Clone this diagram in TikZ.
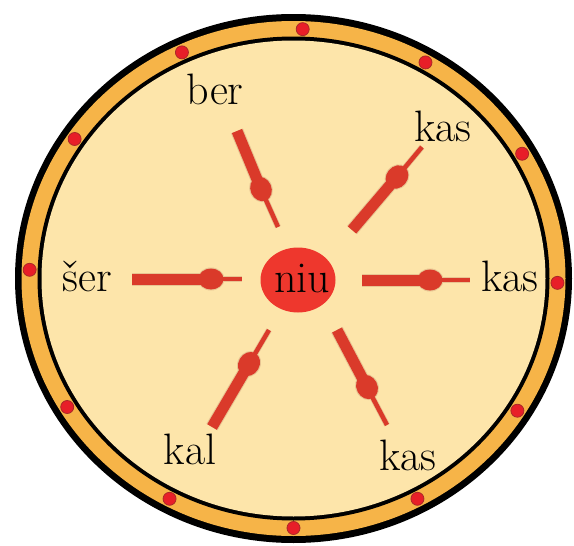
\documentclass[tikz,border=0pt]{standalone}
\usepackage{fontspec}
\usetikzlibrary{shapes.geometric}
\definecolor{bgfill}{RGB}{253,229,170}
\definecolor{ringorange}{RGB}{246,180,72}
\definecolor{dotred}{RGB}{232,30,40}
\definecolor{dotedge}{RGB}{170,40,40}
\definecolor{arrowred}{RGB}{218,58,42}
\definecolor{halo}{RGB}{232,196,146}
\definecolor{centerred}{RGB}{238,55,45}
\tikzset{
  lbl/.style={font=\rmfamily\fontsize{44}{52}\selectfont, anchor=base, inner sep=0pt, text=black},
  thickseg/.style={draw=arrowred, line width=11pt, line cap=butt},
  thinseg/.style={draw=arrowred, line width=4.5pt, line cap=butt},
  thickhalo/.style={draw=halo, line width=13pt, line cap=butt},
  thinhalo/.style={draw=halo, line width=6pt, line cap=butt},
  blob/.style={ellipse, fill=arrowred, minimum width=25pt, minimum height=21pt, inner sep=0pt},
  blobhalo/.style={ellipse, fill=halo, minimum width=27pt, minimum height=23pt, inner sep=0pt},
}
\newcommand{\blobarrow}[4]{%
  \draw[thickhalo] (#1) -- (#2);
  \draw[thinhalo] (#2) -- (#3);
  \node[blobhalo, rotate=#4] at (#2) {};
  \draw[thickseg] (#1) -- (#2);
  \draw[thinseg] (#2) -- (#3);
  \node[blob, rotate=#4] at (#2) {};
}
\begin{document}
\begin{tikzpicture}[x=1pt,y=-1pt]
\useasboundingbox (0,0) rectangle (574,546);
\coordinate (c) at (293.5,278.5);
% rings
\fill[black] (c) ellipse (278.5pt and 264.5pt);
\fill[ringorange] (c) ellipse (272pt and 257.5pt);
\fill[black] (c) ellipse (256pt and 242pt);
\fill[bgfill] (c) ellipse (252pt and 238pt);
% dots on the ring
\foreach \t in {-1,30,60,88,115,146,178,211,242,270,298,328}
  \fill[dotred, draw=dotedge, line width=0.8pt, shift={(c)}] (\t:264pt and 249.5pt) circle (6.5pt);

% labels
\node[lbl] (ber)  at (215,104) {ber};
\node[lbl] (kas1) at (443,141) {kas};
\node[lbl] (kas2) at (510,291) {kas};
\node[lbl] (ser)  at (87,291)  {šer};
\node[lbl] (kal)  at (190,464) {kal};
\node[lbl] (kas3) at (408,470) {kas};
\node[ellipse, fill=centerred, minimum width=75pt, minimum height=65pt, inner sep=0pt] (niu) at (298,280) {};
\node[lbl] (niutext) at (302,292) {niu};

% arrow coordinates
\coordinate (s1) at (237,131); \coordinate (m1) at (261,189); \coordinate (e1) at (278,227);
\coordinate (s2) at (132,279); \coordinate (m2) at (211,279); \coordinate (e2) at (242,279);
\coordinate (s3) at (212,427); \coordinate (m3) at (249,364); \coordinate (e3) at (269,330);
\coordinate (s4) at (362,280); \coordinate (m4) at (430,280); \coordinate (e4) at (470,280);
\coordinate (s5) at (352,230); \coordinate (m5) at (397,177); \coordinate (e5) at (422,147);
\coordinate (s6) at (337,330); \coordinate (m6) at (367,387); \coordinate (e6) at (387,425);

\blobarrow{s1}{m1}{e1}{-66.9}
\blobarrow{s2}{m2}{e2}{0}
\blobarrow{s3}{m3}{e3}{59.6}
\blobarrow{s4}{m4}{e4}{0}
\blobarrow{s5}{m5}{e5}{49.9}
\blobarrow{s6}{m6}{e6}{-62.2}
\end{tikzpicture}
\end{document}
